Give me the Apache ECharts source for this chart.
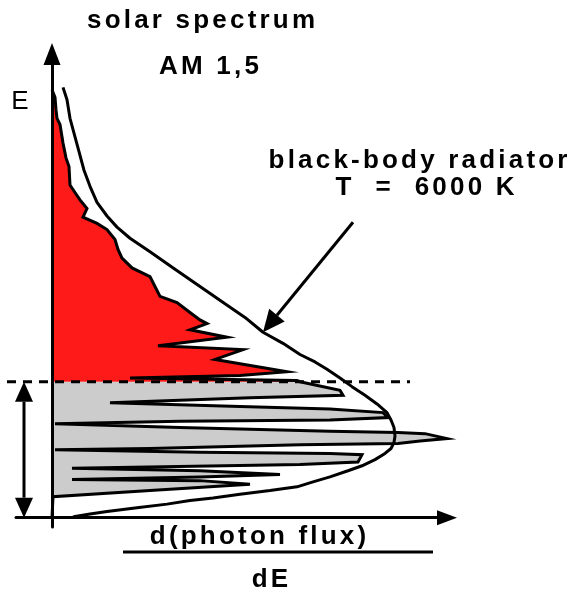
<!DOCTYPE html>
<html>
<head>
<meta charset="utf-8">
<script src="https://cdn.jsdelivr.net/npm/echarts@6/dist/echarts.min.js"></script>
<style>
  html, body { margin: 0; padding: 0; background: #fff; }
  #chart { width: 577px; height: 595px; }
</style>
</head>
<body>
<div id="chart"></div>
<script>
// photon energy E (eV) on the vertical axis, spectral photon flux (arb. units) on the horizontal one
const bandGap = 1.1;

// AM 1,5 solar spectrum outline, from the top of the E axis down to E = 0
const solarFlux = [
  0.00, 0.03, 0.04, 0.05, 0.08, 0.11, 0.14, 0.17, 0.18, 0.23, 0.28, 0.35, 0.31, 0.45, 0.55, 0.63,
  0.66, 0.70, 0.80, 0.98, 1.03, 1.08, 1.25, 1.38, 1.48, 1.55, 1.38, 1.75, 1.06, 1.91, 1.63, 2.35,
  1.88, 0.78, 2.45, 2.48,
  2.88, 2.91, 1.98, 0.58, 1.88, 2.78, 3.31, 3.36, 2.78, 1.28, 0.03, 1.28, 2.78, 3.46, 3.73, 3.95,
  3.68, 3.46, 2.48, 0.98, 0.03, 1.48, 2.78, 3.10, 3.06, 2.48, 0.20, 1.48, 2.28, 1.48, 0.20, 1.48,
  1.98, 0.98, 0.01, 0.00
];
const solarEnergy = [
  3.46, 3.40, 3.30, 3.23, 3.18, 3.03, 2.91, 2.84, 2.69, 2.63, 2.57, 2.50, 2.43, 2.38, 2.33, 2.25,
  2.17, 2.10, 2.02, 1.95, 1.87, 1.79, 1.74, 1.66, 1.60, 1.57, 1.52, 1.46, 1.39, 1.36, 1.28, 1.18,
  1.15, 1.13, 1.11, 1.10,
  1.03, 0.99, 0.97, 0.93, 0.90, 0.88, 0.85, 0.81, 0.79, 0.78, 0.76, 0.73, 0.70, 0.69, 0.68, 0.64,
  0.62, 0.60, 0.59, 0.56, 0.55, 0.53, 0.52, 0.51, 0.45, 0.43, 0.40, 0.38, 0.35, 0.33, 0.31, 0.30,
  0.27, 0.22, 0.17, 0.00
];

// black-body radiator, T = 6000 K
const bbFlux = [
  0.11, 0.15, 0.18, 0.23, 0.27, 0.32, 0.38, 0.45, 0.55, 0.65, 0.78, 0.98, 1.23, 1.48, 1.73, 1.93,
  2.11, 2.31, 2.48, 2.63, 2.75, 2.88, 3.00, 3.13, 3.25, 3.35, 3.39, 3.42, 3.43, 3.42, 3.39, 3.33,
  3.23, 3.10, 2.96, 2.78, 2.61, 2.45, 2.18, 1.88, 1.61, 1.38, 1.15, 0.85, 0.55, 0.38, 0.23, 0.20
];
const bbEnergy = [
  3.48, 3.38, 3.23, 3.08, 2.96, 2.81, 2.68, 2.55, 2.44, 2.35, 2.26, 2.15, 2.01, 1.87, 1.73, 1.62,
  1.50, 1.41, 1.32, 1.26, 1.20, 1.13, 1.06, 0.99, 0.92, 0.85, 0.79, 0.73, 0.66, 0.61, 0.56, 0.52,
  0.47, 0.42, 0.38, 0.33, 0.29, 0.25, 0.22, 0.19, 0.16, 0.14, 0.11, 0.08, 0.05, 0.03, 0.01, 0.00
];

const solarPts = solarFlux.map((x, i) => [x, solarEnergy[i]]);
const bbPts = bbFlux.map((x, i) => [x, bbEnergy[i]]);
const gapIndex = solarEnergy.indexOf(bandGap);

// where the pointer starts and which black-body point it hits
const pointerFrom = [3.01, 2.39];
const pointerIndex = 16;

// triangle head of an arrow, tip at "tip", pointing away from "from"
function arrowHead(tip, from, len, half) {
  const dx = tip[0] - from[0], dy = tip[1] - from[1];
  const d = Math.hypot(dx, dy);
  const ux = dx / d, uy = dy / d;
  const bx = tip[0] - ux * len, by = tip[1] - uy * len;
  return {
    base: [bx, by],
    points: [tip, [bx - uy * half, by + ux * half], [bx + uy * half, by - ux * half]]
  };
}

function arrow(from, tip, len, half, doubled) {
  const h1 = arrowHead(tip, from, len, half);
  const start = doubled ? arrowHead(from, tip, len, half) : null;
  const s = start ? start.base : from;
  const out = [
    { type: 'line', shape: { x1: s[0], y1: s[1], x2: h1.base[0], y2: h1.base[1] },
      style: { stroke: '#000', lineWidth: 3 } },
    { type: 'polygon', shape: { points: h1.points }, style: { fill: '#000' } }
  ];
  if (start) out.push({ type: 'polygon', shape: { points: start.points }, style: { fill: '#000' } });
  return out;
}

function renderSolar(params, api) {
  const c = p => api.coord(p);
  const upper = solarPts.slice(0, gapIndex + 1).concat([[0, bandGap]]);
  const lower = solarPts.slice(gapIndex).concat([[0, bandGap]]);
  return {
    type: 'group',
    children: [
      { type: 'polygon', shape: { points: lower.map(c) }, style: { fill: '#cccccc' } },
      { type: 'polygon', shape: { points: upper.map(c) }, style: { fill: '#ff1a1a' } },
      { type: 'polyline', shape: { points: solarPts.map(c) },
        style: { fill: 'none', stroke: '#000', lineWidth: 3 } }
    ]
  };
}

function renderMarks(params, api) {
  const g1 = api.coord([-0.45, bandGap]);
  const g2 = api.coord([3.58, bandGap]);
  const top = api.coord([-0.28, bandGap]);
  const bottom = api.coord([-0.28, 0]);
  const pFrom = api.coord(pointerFrom);
  const pTip = api.coord(bbPts[pointerIndex]);
  return {
    type: 'group',
    children: [
      { type: 'line', shape: { x1: g1[0], y1: g1[1], x2: g2[0], y2: g2[1] },
        style: { stroke: '#000', lineWidth: 3, lineDash: [9, 7] } }
    ].concat(arrow(top, bottom, 20, 9, true), arrow(pFrom, pTip, 22, 10, false))
  };
}

function spaced(s) {
  return s.split('').map(ch => '{s|' + ch + '}').join('');
}
const boldRich = {
  s: { fontFamily: 'Liberation Sans', fontWeight: 'bold', fontSize: 26, padding: [0, 1.6], fill: '#000' }
};
function label(text, x, y) {
  return { type: 'text', x: x, y: y, z: 20,
    style: { text: spaced(text), rich: boldRich, align: 'center', verticalAlign: 'middle' } };
}

const axisStyle = { color: '#000', width: 3 };

const chart = echarts.init(document.getElementById('chart'), null, { renderer: 'canvas' });
chart.setOption({
  animation: false,
  backgroundColor: '#fff',
  grid: { left: 16, right: 130, top: 54, bottom: 68 },
  xAxis: {
    type: 'value', min: -0.36, max: 3.95, z: 5,
    axisLine: { onZero: true, symbol: ['none', 'triangle'], symbolSize: [15, 20], lineStyle: axisStyle },
    axisTick: { show: false }, axisLabel: { show: false }, splitLine: { show: false }
  },
  yAxis: {
    type: 'value', min: -0.075, max: 3.75, z: 5,
    axisLine: { onZero: true, symbol: ['none', 'triangle'], symbolSize: [17, 22], lineStyle: axisStyle },
    axisTick: { show: false }, axisLabel: { show: false }, splitLine: { show: false }
  },
  series: [
    { type: 'custom', name: 'solar spectrum', renderItem: renderSolar, data: [[0, 0]], z: 2 },
    { type: 'line', name: 'black-body radiator', data: bbPts, symbol: 'none', z: 3,
      lineStyle: { color: '#000', width: 3 } },
    { type: 'custom', name: 'marks', renderItem: renderMarks, data: [[0, 0]], z: 4 }
  ],
  graphic: [
    label('solar spectrum', 201, 21),
    label('AM 1,5', 209, 67),
    label('black-body radiator', 418, 161),
    label('T  =  6000 K', 425, 188),
    label('d(photon flux)', 258, 537),
    label('dE', 270, 580),
    { type: 'line', shape: { x1: 123, y1: 552, x2: 433, y2: 552 }, style: { stroke: '#000', lineWidth: 3 } },
    { type: 'text', x: 20, y: 102,
      style: { text: 'E', font: '26px "Liberation Sans"', fill: '#000', align: 'center', verticalAlign: 'middle' } }
  ]
});
</script>
</body>
</html>
